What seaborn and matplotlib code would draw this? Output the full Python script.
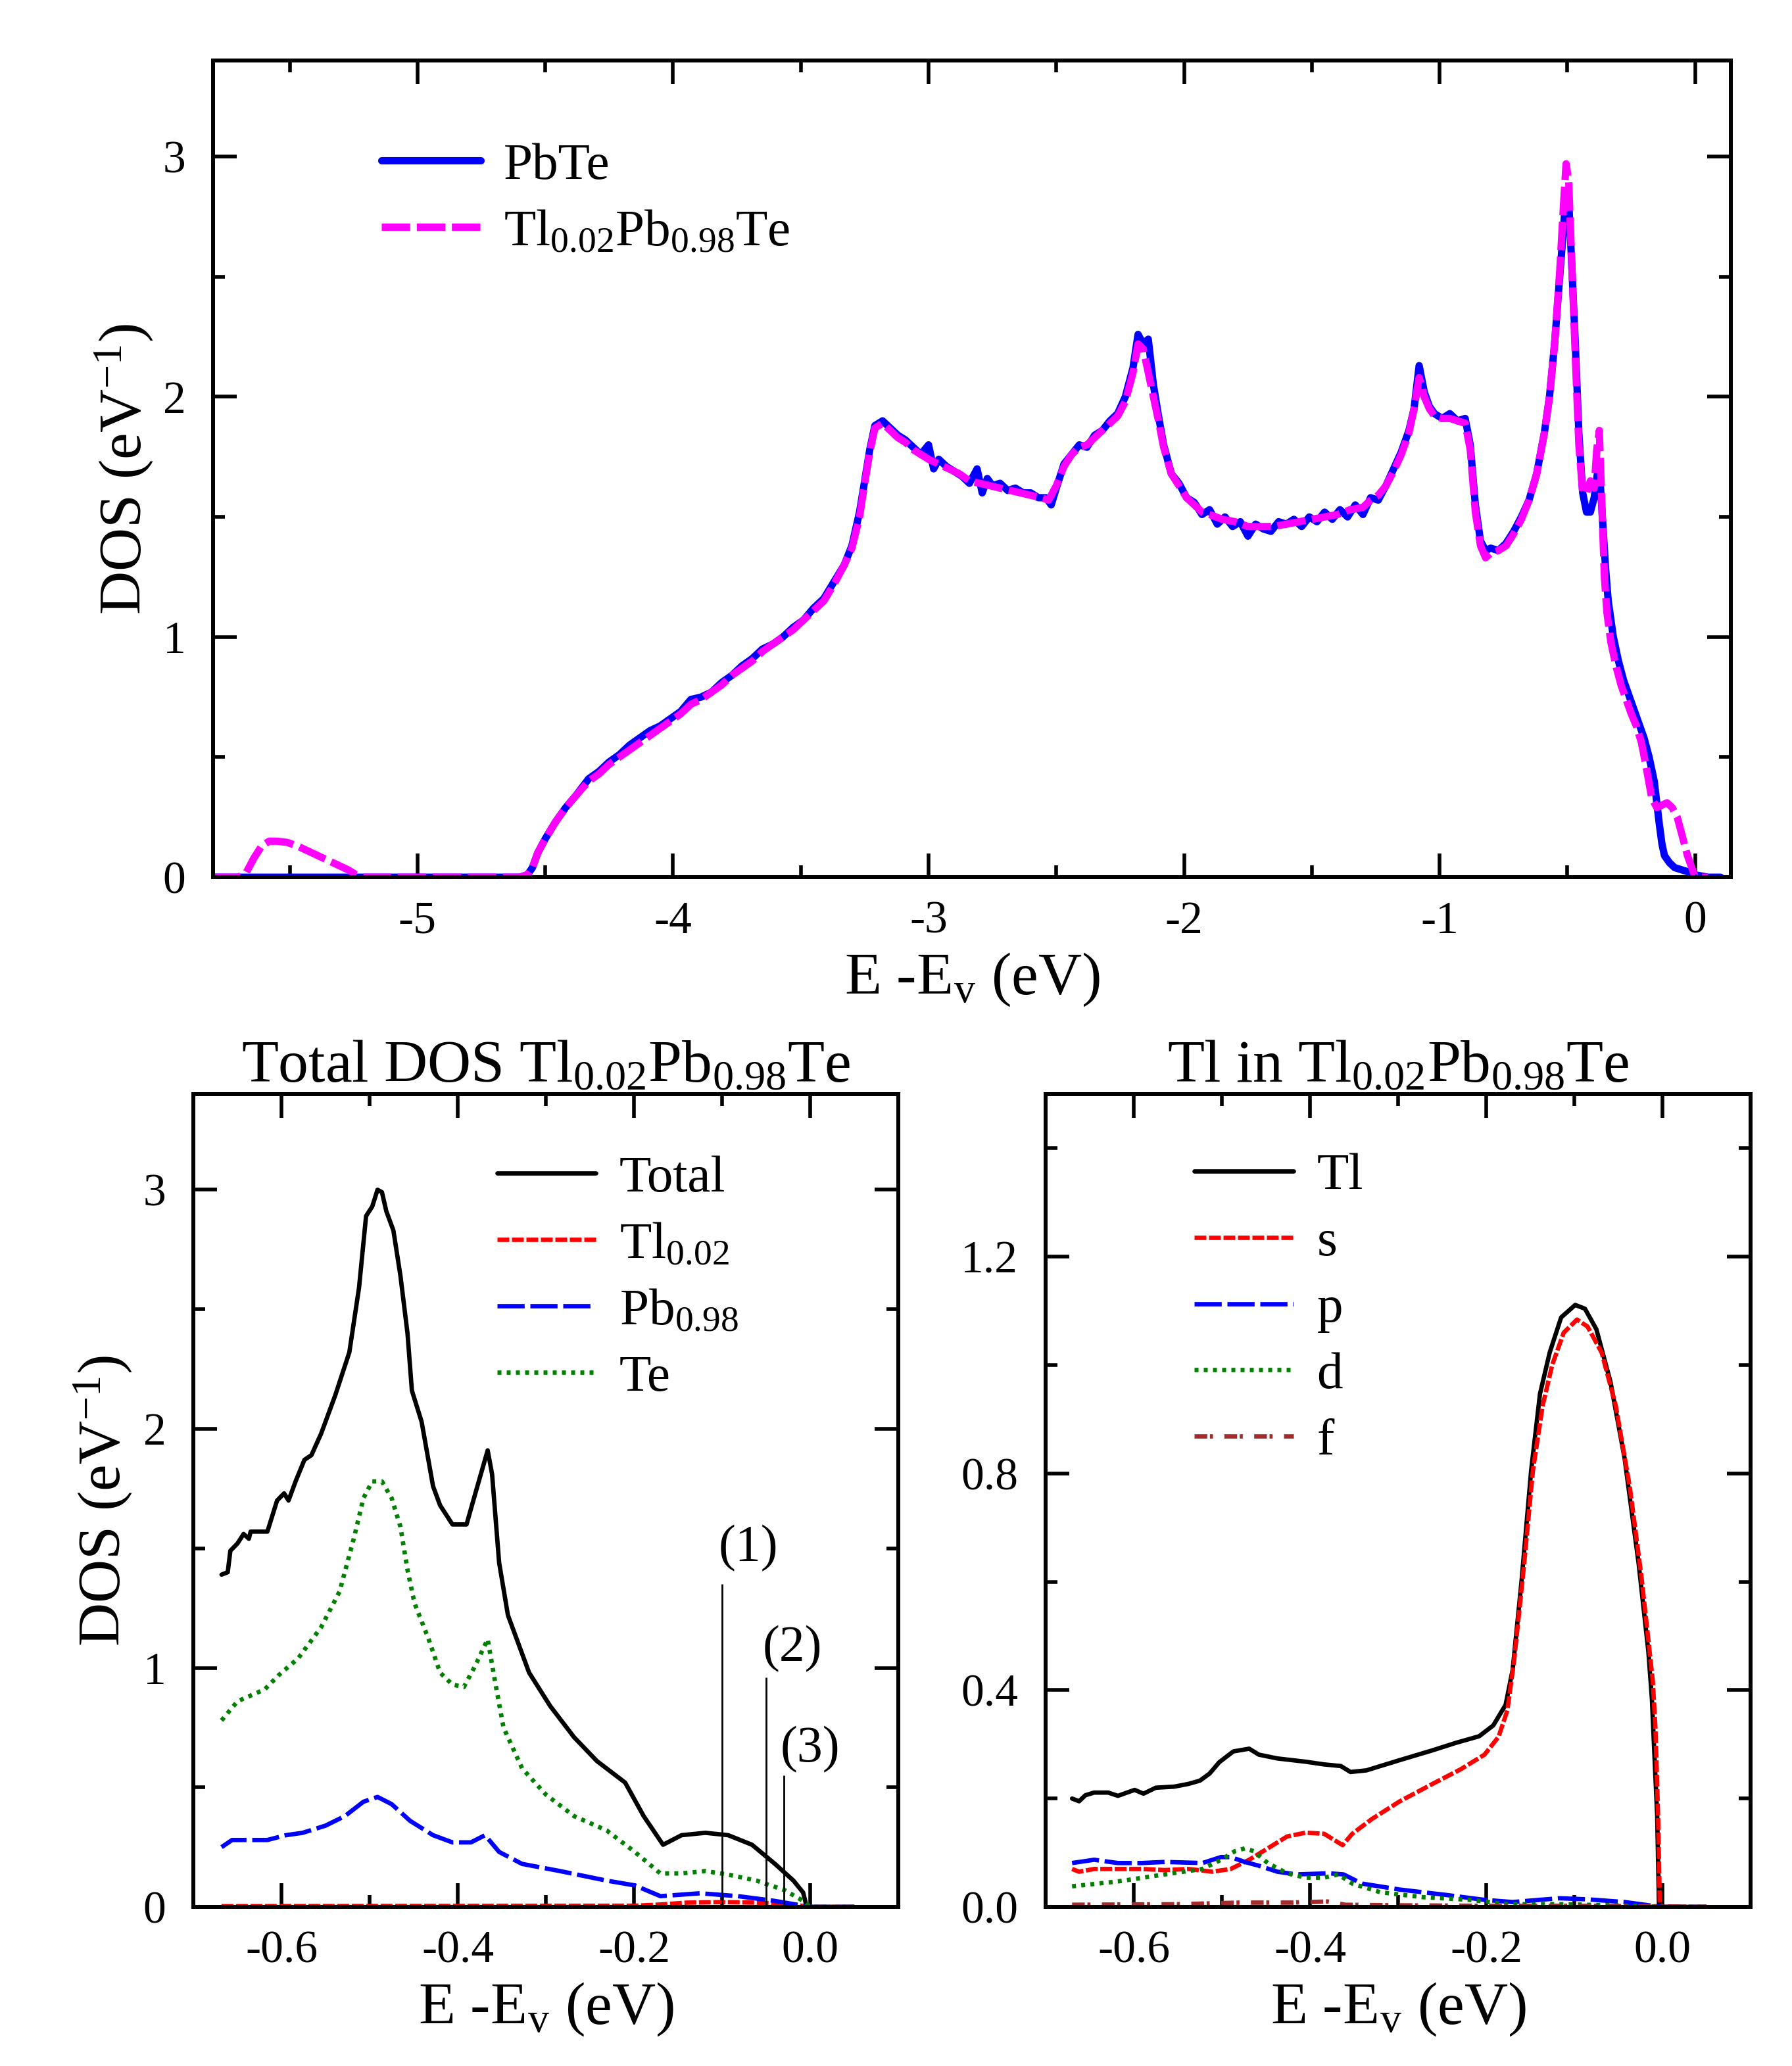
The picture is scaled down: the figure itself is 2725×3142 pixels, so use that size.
"""
PbTe / Tl0.02Pb0.98Te density of states, three panels.
"""
import matplotlib
matplotlib.use("Agg")
import matplotlib.pyplot as plt
from matplotlib.ticker import FormatStrFormatter
import seaborn as sns

# --- top panel: total DOS, PbTe vs Tl0.02Pb0.98Te ---
pbte_e = [-5.80, -5.40, -5.00, -4.60, -4.57, -4.55, -4.53, -4.50, -4.46, -4.42,
          -4.38, -4.33, -4.29, -4.25, -4.21, -4.17, -4.13, -4.09, -4.05, -4.01,
          -3.97, -3.93, -3.89, -3.85, -3.81, -3.77, -3.73, -3.69, -3.65, -3.61,
          -3.57, -3.53, -3.49, -3.45, -3.41, -3.37, -3.33, -3.30, -3.27, -3.25,
          -3.23, -3.21, -3.18, -3.15, -3.12, -3.09, -3.06, -3.03, -3.00, -2.98,
          -2.96, -2.93, -2.90, -2.87, -2.84, -2.81, -2.79, -2.77, -2.75, -2.72,
          -2.69, -2.66, -2.63, -2.60, -2.57, -2.54, -2.52, -2.50, -2.47, -2.44,
          -2.41, -2.38, -2.35, -2.32, -2.29, -2.26, -2.23, -2.20, -2.18, -2.16,
          -2.14, -2.12, -2.10, -2.08, -2.05, -2.02, -1.99, -1.96, -1.93, -1.90,
          -1.87, -1.84, -1.81, -1.78, -1.75, -1.72, -1.69, -1.66, -1.63, -1.60,
          -1.57, -1.54, -1.51, -1.48, -1.45, -1.42, -1.39, -1.36, -1.33, -1.30,
          -1.27, -1.24, -1.21, -1.18, -1.15, -1.12, -1.10, -1.08, -1.06, -1.04,
          -1.02, -0.99, -0.96, -0.93, -0.90, -0.88, -0.86, -0.84, -0.82, -0.80,
          -0.77, -0.74, -0.71, -0.68, -0.65, -0.62, -0.59, -0.57, -0.55, -0.53,
          -0.515, -0.505, -0.495, -0.485, -0.47, -0.455, -0.44, -0.425, -0.41, -0.395,
          -0.38, -0.37, -0.36, -0.35, -0.34, -0.32, -0.30, -0.28, -0.26, -0.24,
          -0.22, -0.20, -0.18, -0.16, -0.14, -0.13, -0.12, -0.10, -0.08, -0.05,
          -0.02, 0.00, 0.05, 0.10]
pbte_dos = [0.00, 0.00, 0.00, 0.00, 0.01, 0.04, 0.10, 0.16, 0.23, 0.29,
            0.34, 0.41, 0.44, 0.48, 0.51, 0.55, 0.58, 0.61, 0.63, 0.66,
            0.69, 0.74, 0.75, 0.77, 0.81, 0.84, 0.88, 0.91, 0.95, 0.97,
            1.00, 1.04, 1.07, 1.12, 1.16, 1.23, 1.30, 1.38, 1.52, 1.65,
            1.78, 1.88, 1.90, 1.87, 1.84, 1.82, 1.79, 1.76, 1.80, 1.70,
            1.74, 1.71, 1.69, 1.67, 1.64, 1.70, 1.60, 1.66, 1.63, 1.64,
            1.61, 1.62, 1.60, 1.60, 1.58, 1.58, 1.55, 1.62, 1.72, 1.76,
            1.80, 1.79, 1.84, 1.86, 1.90, 1.93, 2.00, 2.12, 2.26, 2.22,
            2.24, 2.05, 1.92, 1.80, 1.68, 1.64, 1.58, 1.56, 1.51, 1.53,
            1.47, 1.50, 1.46, 1.48, 1.42, 1.47, 1.45, 1.44, 1.48, 1.47,
            1.49, 1.46, 1.50, 1.48, 1.52, 1.49, 1.53, 1.50, 1.55, 1.51,
            1.58, 1.57, 1.63, 1.70, 1.77, 1.86, 1.95, 2.13, 2.02, 1.96,
            1.93, 1.91, 1.93, 1.90, 1.91, 1.80, 1.55, 1.40, 1.36, 1.37,
            1.36, 1.39, 1.44, 1.50, 1.57, 1.68, 1.85, 2.00, 2.22, 2.50,
            2.70, 2.85, 2.82, 2.60, 2.25, 1.85, 1.60, 1.52, 1.52, 1.58,
            1.70, 1.62, 1.45, 1.28, 1.15, 1.00, 0.90, 0.82, 0.76, 0.70,
            0.64, 0.58, 0.50, 0.40, 0.22, 0.14, 0.09, 0.06, 0.04, 0.03,
            0.02, 0.01, 0.00, 0.00]

tlpbte_e = [-5.80, -5.70, -5.67, -5.64, -5.61, -5.58, -5.55, -5.51, -5.47, -5.43,
            -5.39, -5.35, -5.31, -5.27, -5.24, -5.21, -5.10, -4.90, -4.60, -4.57,
            -4.55, -4.53, -4.50, -4.46, -4.42, -4.38, -4.33, -4.29, -4.25, -4.21,
            -4.17, -4.13, -4.09, -4.05, -4.01, -3.97, -3.93, -3.89, -3.85, -3.81,
            -3.77, -3.73, -3.69, -3.65, -3.61, -3.57, -3.53, -3.49, -3.45, -3.41,
            -3.37, -3.33, -3.30, -3.27, -3.25, -3.23, -3.21, -3.18, -3.15, -3.12,
            -3.09, -3.06, -3.03, -3.00, -2.96, -2.92, -2.88, -2.84, -2.80, -2.76,
            -2.72, -2.68, -2.64, -2.60, -2.56, -2.53, -2.50, -2.47, -2.44, -2.41,
            -2.38, -2.35, -2.32, -2.29, -2.26, -2.23, -2.20, -2.18, -2.16, -2.14,
            -2.12, -2.10, -2.08, -2.05, -2.02, -1.99, -1.96, -1.93, -1.90, -1.85,
            -1.80, -1.75, -1.70, -1.65, -1.60, -1.55, -1.50, -1.45, -1.40, -1.35,
            -1.30, -1.27, -1.24, -1.21, -1.18, -1.15, -1.12, -1.10, -1.08, -1.06,
            -1.04, -1.02, -0.99, -0.96, -0.93, -0.90, -0.88, -0.86, -0.84, -0.82,
            -0.80, -0.77, -0.74, -0.71, -0.68, -0.65, -0.62, -0.59, -0.57, -0.55,
            -0.53, -0.515, -0.505, -0.495, -0.485, -0.47, -0.455, -0.44, -0.425, -0.41,
            -0.395, -0.385, -0.375, -0.365, -0.355, -0.345, -0.33, -0.31, -0.29, -0.27,
            -0.25, -0.23, -0.21, -0.19, -0.17, -0.15, -0.13, -0.11, -0.09, -0.07,
            -0.05, -0.03, -0.01, 0.00, 0.02, 0.05]
tlpbte_dos = [0.00, 0.00, 0.02, 0.08, 0.13, 0.15, 0.15, 0.145, 0.13, 0.11,
              0.09, 0.07, 0.05, 0.03, 0.01, 0.00, 0.00, 0.00, 0.00, 0.01,
              0.04, 0.10, 0.16, 0.23, 0.29, 0.34, 0.40, 0.43, 0.47, 0.50,
              0.53, 0.56, 0.59, 0.62, 0.65, 0.68, 0.72, 0.74, 0.77, 0.80,
              0.84, 0.87, 0.90, 0.94, 0.97, 1.00, 1.03, 1.07, 1.11, 1.15,
              1.22, 1.30, 1.37, 1.50, 1.64, 1.77, 1.87, 1.89, 1.86, 1.83,
              1.81, 1.78, 1.76, 1.74, 1.72, 1.70, 1.68, 1.65, 1.64, 1.63,
              1.62, 1.61, 1.60, 1.59, 1.58, 1.57, 1.63, 1.71, 1.76, 1.79,
              1.80, 1.83, 1.86, 1.89, 1.92, 1.98, 2.10, 2.22, 2.20, 2.10,
              2.00, 1.90, 1.79, 1.68, 1.63, 1.58, 1.55, 1.52, 1.51, 1.49,
              1.48, 1.46, 1.46, 1.46, 1.47, 1.48, 1.49, 1.50, 1.51, 1.53,
              1.54, 1.57, 1.59, 1.63, 1.69, 1.76, 1.85, 1.95, 2.08, 2.00,
              1.95, 1.92, 1.91, 1.91, 1.90, 1.89, 1.78, 1.52, 1.38, 1.33,
              1.35, 1.36, 1.38, 1.43, 1.49, 1.57, 1.68, 1.85, 2.00, 2.22,
              2.52, 2.80, 2.97, 2.90, 2.62, 2.20, 1.80, 1.60, 1.60, 1.65,
              1.62, 1.78, 1.86, 1.55, 1.25, 1.10, 0.98, 0.88, 0.80, 0.74,
              0.68, 0.63, 0.56, 0.45, 0.33, 0.29, 0.30, 0.31, 0.29, 0.25,
              0.17, 0.09, 0.03, 0.00, 0.00, 0.00]

# --- bottom left: projected DOS of Tl0.02Pb0.98Te ---
total_e = [-0.668, -0.661, -0.658, -0.650, -0.643, -0.637, -0.635, -0.616, -0.605, -0.597,
           -0.592, -0.584, -0.574, -0.566, -0.555, -0.539, -0.523, -0.512, -0.504, -0.497,
           -0.491, -0.486, -0.481, -0.473, -0.465, -0.457, -0.452, -0.441, -0.428, -0.420,
           -0.406, -0.390, -0.380, -0.366, -0.361, -0.353, -0.343, -0.319, -0.295, -0.268,
           -0.242, -0.210, -0.189, -0.167, -0.146, -0.119, -0.093, -0.066, -0.040, -0.019,
           -0.008, -0.004, 0.000, 0.050]
total_dos = [1.39, 1.40, 1.49, 1.52, 1.56, 1.54, 1.57, 1.57, 1.70, 1.73,
             1.70, 1.78, 1.87, 1.89, 1.98, 2.14, 2.32, 2.59, 2.89, 2.93,
             3.00, 2.99, 2.91, 2.83, 2.64, 2.40, 2.16, 2.03, 1.76, 1.68,
             1.60, 1.60, 1.73, 1.91, 1.81, 1.44, 1.22, 0.98, 0.84, 0.71,
             0.61, 0.52, 0.38, 0.26, 0.30, 0.31, 0.30, 0.26, 0.18, 0.11,
             0.06, 0.00, 0.00, 0.00]

tl002_e = [-0.668, -0.40, -0.20, -0.17, -0.14, -0.10, -0.06, -0.03, -0.01, 0.00, 0.05]
tl002_dos = [0.003, 0.004, 0.005, 0.010, 0.018, 0.020, 0.018, 0.012, 0.005, 0.000, 0.000]

pb098_e = [-0.668, -0.656, -0.616, -0.595, -0.576, -0.550, -0.528, -0.507, -0.491, -0.475,
           -0.454, -0.428, -0.406, -0.385, -0.369, -0.353, -0.327, -0.284, -0.231, -0.199,
           -0.170, -0.125, -0.082, -0.040, -0.008, 0.000, 0.050]
pb098_dos = [0.25, 0.28, 0.28, 0.30, 0.31, 0.34, 0.38, 0.44, 0.46, 0.43,
             0.36, 0.30, 0.27, 0.27, 0.30, 0.23, 0.18, 0.15, 0.11, 0.09,
             0.045, 0.057, 0.045, 0.025, 0.005, 0.000, 0.000]

te_e = [-0.668, -0.650, -0.619, -0.603, -0.581, -0.555, -0.534, -0.518, -0.507, -0.497,
        -0.486, -0.475, -0.465, -0.457, -0.449, -0.433, -0.420, -0.406, -0.393, -0.380,
        -0.366, -0.358, -0.348, -0.327, -0.300, -0.268, -0.231, -0.199, -0.170, -0.146,
        -0.119, -0.093, -0.061, -0.029, -0.008, 0.000, 0.050]
te_dos = [0.78, 0.86, 0.91, 0.97, 1.04, 1.17, 1.32, 1.54, 1.71, 1.78,
          1.78, 1.71, 1.59, 1.41, 1.27, 1.12, 0.98, 0.93, 0.92, 1.01,
          1.12, 0.95, 0.75, 0.58, 0.47, 0.38, 0.32, 0.23, 0.14, 0.14,
          0.15, 0.135, 0.11, 0.07, 0.025, 0.000, 0.000]

# energies (1), (2), (3) marked in the left panel
mark_e = [-0.10, -0.05, -0.03]
mark_top = [1.35, 0.96, 0.55]
mark_label_y = [1.50, 1.08, 0.66]
mark_labels = ["(1)", "(2)", "(3)"]

# --- bottom right: Tl partial DOS ---
tl_e = [-0.670, -0.662, -0.655, -0.645, -0.629, -0.618, -0.599, -0.589, -0.575, -0.554,
        -0.538, -0.525, -0.514, -0.503, -0.487, -0.469, -0.458, -0.437, -0.405, -0.384,
        -0.365, -0.354, -0.336, -0.298, -0.261, -0.234, -0.208, -0.192, -0.178, -0.170,
        -0.160, -0.149, -0.139, -0.128, -0.115, -0.099, -0.088, -0.075, -0.059, -0.043,
        -0.027, -0.016, -0.012, -0.009, -0.006, -0.004, 0.000, 0.050]
tl_dos = [0.200, 0.195, 0.206, 0.211, 0.211, 0.205, 0.216, 0.209, 0.220, 0.222,
          0.227, 0.233, 0.246, 0.267, 0.287, 0.292, 0.281, 0.274, 0.268, 0.263,
          0.260, 0.249, 0.252, 0.271, 0.289, 0.303, 0.315, 0.335, 0.373, 0.438,
          0.600, 0.806, 0.947, 1.023, 1.088, 1.111, 1.104, 1.066, 0.969, 0.828,
          0.633, 0.471, 0.384, 0.276, 0.168, 0.005, 0.000, 0.000]

s_e = [-0.670, -0.662, -0.645, -0.618, -0.591, -0.565, -0.538, -0.511, -0.490, -0.469,
       -0.448, -0.426, -0.405, -0.384, -0.373, -0.363, -0.352, -0.330, -0.298, -0.261,
       -0.229, -0.202, -0.186, -0.176, -0.168, -0.157, -0.147, -0.136, -0.125, -0.112,
       -0.097, -0.085, -0.069, -0.053, -0.037, -0.024, -0.016, -0.011, -0.008, -0.005,
       -0.003, 0.000, 0.050]
s_dos = [0.070, 0.065, 0.070, 0.070, 0.070, 0.068, 0.070, 0.065, 0.070, 0.087,
         0.108, 0.130, 0.137, 0.135, 0.124, 0.114, 0.135, 0.162, 0.195, 0.227,
         0.254, 0.281, 0.314, 0.363, 0.460, 0.633, 0.806, 0.925, 1.001, 1.060,
         1.084, 1.071, 1.023, 0.925, 0.774, 0.611, 0.492, 0.417, 0.330, 0.168,
         0.005, 0.000, 0.000]

p_e = [-0.670, -0.645, -0.618, -0.591, -0.565, -0.522, -0.501, -0.490, -0.474, -0.458,
       -0.437, -0.416, -0.378, -0.362, -0.341, -0.298, -0.245, -0.202, -0.170, -0.117,
       -0.085, -0.043, -0.011, 0.000, 0.050]
p_dos = [0.081, 0.087, 0.081, 0.081, 0.083, 0.081, 0.092, 0.092, 0.083, 0.076,
         0.065, 0.060, 0.062, 0.060, 0.043, 0.032, 0.022, 0.013, 0.009, 0.016,
         0.014, 0.009, 0.002, 0.000, 0.000]

d_e = [-0.670, -0.618, -0.565, -0.522, -0.501, -0.485, -0.474, -0.464, -0.448, -0.426,
       -0.405, -0.384, -0.368, -0.352, -0.320, -0.272, -0.218, -0.176, -0.112, -0.032,
       0.000, 0.050]
d_dos = [0.038, 0.047, 0.060, 0.070, 0.087, 0.103, 0.108, 0.103, 0.081, 0.062,
         0.054, 0.054, 0.060, 0.043, 0.027, 0.018, 0.013, 0.005, 0.005, 0.002,
         0.000, 0.000]

f_e = [-0.670, -0.55, -0.48, -0.42, -0.38, -0.36, -0.30, -0.20, -0.10, 0.00, 0.05]
f_dos = [0.004, 0.005, 0.008, 0.008, 0.010, 0.004, 0.003, 0.002, 0.002, 0.001, 0.000]

# tick positions
top_xticks = [-5, -4, -3, -2, -1, 0]
top_xminor = [-5.5, -4.5, -3.5, -2.5, -1.5, -0.5]
top_yticks = [0, 1, 2, 3]
top_yminor = [0.5, 1.5, 2.5]
low_xticks = [-0.6, -0.4, -0.2, 0.0]
low_xminor = [-0.5, -0.3, -0.1]
right_yticks = [0.0, 0.4, 0.8, 1.2]
right_yminor = [0.2, 0.6, 1.0, 1.4]

FORMULA = "Tl$_{0.02}$Pb$_{0.98}$Te"
XLABEL = "E -E$_{v}$ (eV)"
YLABEL = "DOS (eV$^{-1}$)"

# --- style ---
sns.set_theme(style="ticks")
plt.rcParams["font.family"] = ["Liberation Serif", "DejaVu Serif"]
plt.rcParams["mathtext.fontset"] = "custom"
plt.rcParams["mathtext.rm"] = "Liberation Serif"
plt.rcParams["mathtext.it"] = "Liberation Serif:italic"
plt.rcParams["mathtext.default"] = "regular"
plt.rcParams["axes.unicode_minus"] = False
for key in ["text.color", "axes.edgecolor", "axes.labelcolor", "xtick.color", "ytick.color"]:
    plt.rcParams[key] = "black"

TICK_FS = 50
LABEL_FS = 66
LEGEND_FS = 57


def style_axes(ax, xlim, ylim, xt, xm, yt, ym, fmt=None):
    ax.set_xlim(*xlim)
    ax.set_ylim(*ylim)
    ax.set_xticks(xt)
    ax.set_xticks(xm, minor=True)
    ax.set_yticks(yt)
    ax.set_yticks(ym, minor=True)
    if fmt:
        ax.xaxis.set_major_formatter(FormatStrFormatter(fmt))
    ax.tick_params(which="both", direction="in", top=True, right=True,
                   width=4, labelsize=TICK_FS)
    ax.tick_params(which="major", length=26)
    ax.tick_params(which="minor", length=13)
    ax.tick_params(axis="x", pad=26)
    ax.tick_params(axis="y", pad=30)
    for sp in ax.spines.values():
        sp.set_linewidth(4.3)
        sp.set_color("black")


def line(ax, x, y, color, lw, ls, label):
    sns.lineplot(x=x, y=y, ax=ax, color=color, linewidth=lw, linestyle=ls,
                 label=label, estimator=None, sort=False)


def legend(ax, anchor):
    ax.legend(loc="upper left", bbox_to_anchor=anchor, frameon=False,
              fontsize=LEGEND_FS, handlelength=1.9, handletextpad=0.45,
              labelspacing=0.36, borderpad=0, borderaxespad=0)


fig = plt.figure(figsize=(27.25, 31.42), dpi=100)
ax_top = fig.add_axes([0.1189, 0.5754, 0.8470, 0.3953])
ax_bl = fig.add_axes([0.1079, 0.0770, 0.3934, 0.3934])
ax_br = fig.add_axes([0.5835, 0.0770, 0.3934, 0.3934])

# top panel
line(ax_top, pbte_e, pbte_dos, "#0000ff", 8, "-", "PbTe")
line(ax_top, tlpbte_e, tlpbte_dos, "#ff00ff", 8, (0, (3.9, 0.9)), FORMULA)
style_axes(ax_top, (-5.8, 0.14), (0, 3.4), top_xticks, top_xminor, top_yticks, top_yminor)
ax_top.set_xlabel(XLABEL, fontsize=LABEL_FS, labelpad=9)
ax_top.set_ylabel(YLABEL, fontsize=LABEL_FS, labelpad=8)
legend(ax_top, (0.111, 0.90))

# bottom left panel
lw = 4.8
line(ax_bl, total_e, total_dos, "black", lw, "-", "Total")
line(ax_bl, tl002_e, tl002_dos, "#ff0000", lw, (0, (2.7, 0.6)), "Tl$_{0.02}$")
line(ax_bl, pb098_e, pb098_dos, "#0000ff", lw, (0, (6.2, 1.3)), "Pb$_{0.98}$")
line(ax_bl, te_e, te_dos, "#008000", lw, (0, (0.9, 1.2)), "Te")
ax_bl.vlines(mark_e, 0, mark_top, color="black", linewidth=2)
for xe, ye, txt in zip(mark_e, mark_label_y, mark_labels):
    ax_bl.text(xe - 0.004, ye, txt, fontsize=56, ha="left", va="center")
style_axes(ax_bl, (-0.7, 0.1), (0, 3.4), low_xticks, low_xminor, top_yticks, top_yminor, "%.1f")
ax_bl.set_xlabel(XLABEL, fontsize=LABEL_FS, labelpad=9)
ax_bl.set_ylabel(YLABEL, fontsize=LABEL_FS, labelpad=10)
ax_bl.set_title("Total DOS " + FORMULA, fontsize=LABEL_FS, pad=8)
legend(ax_bl, (0.431, 0.925))

# bottom right panel
line(ax_br, tl_e, tl_dos, "black", lw, "-", "Tl")
line(ax_br, s_e, s_dos, "#ff0000", lw, (0, (2.7, 0.6)), "s")
line(ax_br, p_e, p_dos, "#0000ff", lw, (0, (6.2, 1.3)), "p")
line(ax_br, d_e, d_dos, "#008000", lw, (0, (0.9, 1.2)), "d")
line(ax_br, f_e, f_dos, "#a52a2a", lw, (0, (2.9, 0.6, 0.7, 2.6)), "f")
style_axes(ax_br, (-0.7, 0.1), (0, 1.5), low_xticks, low_xminor, right_yticks, right_yminor, "%.1f")
ax_br.yaxis.set_major_formatter(FormatStrFormatter("%.1f"))
ax_br.set_xlabel(XLABEL, fontsize=LABEL_FS, labelpad=9)
ax_br.set_ylabel("")
ax_br.set_title("Tl in " + FORMULA, fontsize=LABEL_FS, pad=8)
legend(ax_br, (0.211, 0.928))

fig.savefig("out.png", dpi=100)
